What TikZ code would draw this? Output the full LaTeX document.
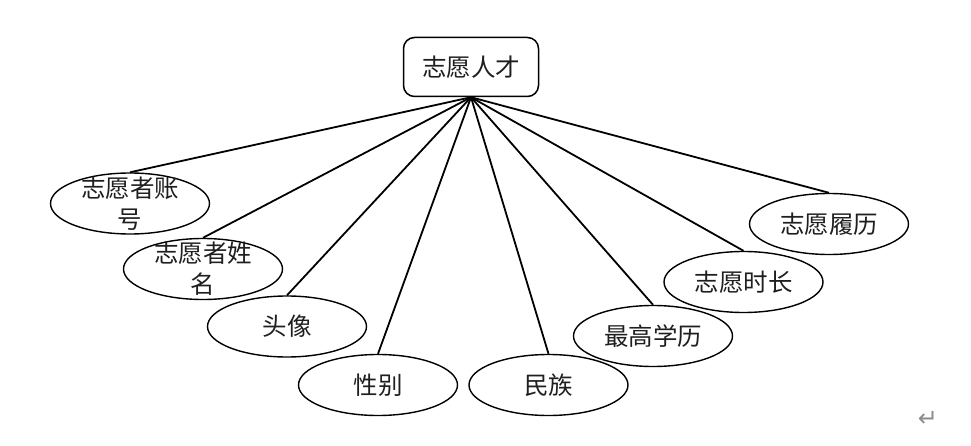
\documentclass[tikz,border=0pt]{standalone}
\usepackage{fontspec}
\newfontfamily\cjk{Noto Sans CJK SC}
\newfontfamily\symf{DejaVu Sans}
\usetikzlibrary{shapes.geometric}
\tikzset{
  attr/.style={draw=black, line width=1.4pt, ellipse, minimum width=159pt, minimum height=61pt, inner sep=0pt, fill=white},
  txt/.style={font=\cjk\fontsize{24.5}{31}\selectfont, text=black!88, align=center, inner sep=0pt},
  entity/.style={draw=black, line width=1.5pt, rounded corners=11pt, minimum width=135pt, minimum height=59pt, inner sep=0pt, fill=white, font=\cjk\fontsize{24.5}{31}\selectfont, text=black!88},
  link/.style={line width=1.8pt, black}
}
\begin{document}
\begin{tikzpicture}[x=1pt, y=-1pt]
\useasboundingbox (0,0) rectangle (971,446);
\node[entity] (top) at (471,67) {志愿人才};
\node[attr] (e1) at (130,203.5) {};
\node[attr] (e2) at (203,269) {};
\node[attr] (e3) at (287,326.5) {};
\node[attr] (e4) at (378,385) {};
\node[attr] (e5) at (548.5,385) {};
\node[attr] (e6) at (653,336) {};
\node[attr] (e7) at (743.5,282) {};
\node[attr] (e8) at (829,224) {};
\foreach \i in {1,...,8} { \draw[link] (top.south) -- (e\i.north); }
\node[txt] (t1) at (e1) {志愿者账\\号};
\node[txt] (t2) at (e2) {志愿者姓\\名};
\node[txt] (t3) at (e3) {头像};
\node[txt] (t4) at (e4) {性别};
\node[txt] (t5) at (e5) {民族};
\node[txt] (t6) at (e6) {最高学历};
\node[txt] (t7) at (e7) {志愿时长};
\node[txt] (t8) at (e8) {志愿履历};
\node[font=\symf\fontsize{24}{26}\selectfont, text=black!45, inner sep=0pt] (ret) at (928,419) {↵};
\end{tikzpicture}
\end{document}
